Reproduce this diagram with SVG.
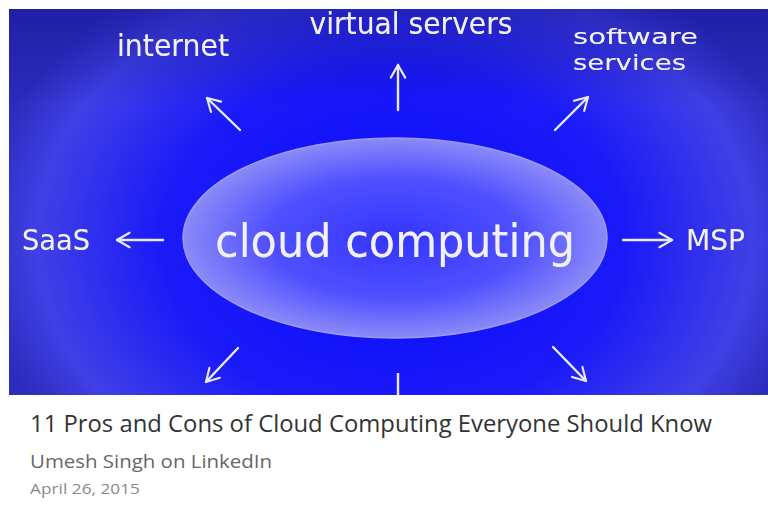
<svg xmlns="http://www.w3.org/2000/svg" width="768" height="508" viewBox="0 0 768 508">
<defs>
<radialGradient id="bg" cx="395" cy="240" r="420" gradientUnits="userSpaceOnUse" gradientTransform="translate(395 240) scale(1 0.75) translate(-395 -240)">
<stop offset="0" stop-color="#0a0aff"/>
<stop offset="0.55" stop-color="#1a1af8"/>
<stop offset="0.85" stop-color="#4040e6"/>
<stop offset="1" stop-color="#2c2cbc"/>
</radialGradient>
<linearGradient id="topShade" x1="0" y1="0" x2="0" y2="1">
<stop offset="0" stop-color="#10108a" stop-opacity="0.45"/>
<stop offset="0.25" stop-color="#10108a" stop-opacity="0"/>
</linearGradient>
<radialGradient id="ell" cx="0.5" cy="0.5" r="0.5">
<stop offset="0" stop-color="#3434ff"/>
<stop offset="0.6" stop-color="#5050ff"/>
<stop offset="1" stop-color="#8a8af8"/>
</radialGradient>
<filter id="glow" x="-10%" y="-30%" width="120%" height="160%">
<feGaussianBlur in="SourceAlpha" stdDeviation="1.5"/>
<feOffset dx="1" dy="1"/>
<feComponentTransfer><feFuncA type="linear" slope="0.6"/></feComponentTransfer>
<feFlood flood-color="#101070"/>
<feComposite operator="in" in2="SourceAlpha"/>
<feMerge><feMergeNode/><feMergeNode in="SourceGraphic"/></feMerge>
</filter>
<marker id="head" viewBox="0 0 20 20" refX="18" refY="10" markerWidth="18" markerHeight="18" markerUnits="userSpaceOnUse" orient="auto">
<path d="M4 2 L18 10 L4 18" fill="none" stroke="#eaeaff" stroke-width="2.4" stroke-linecap="round" stroke-linejoin="round"/>
</marker>
</defs>
<style>
.lbl{font-family:"DejaVu Sans",sans-serif;fill:#f0f0ff;}
.arr{stroke:#eaeaff;stroke-width:2.4;fill:none;stroke-linecap:round;marker-end:url(#head);}
.cap{font-family:"Open Sans","Liberation Sans",sans-serif;}
</style>
<rect width="768" height="508" fill="#ffffff"/>
<rect x="9" y="9" width="759" height="386" fill="url(#bg)"/>
<rect x="9" y="9" width="759" height="386" fill="url(#topShade)"/>

<g id="cloud-computing">
<ellipse cx="395" cy="238" rx="212" ry="100" fill="url(#ell)" stroke="#9a9af5" stroke-width="1.5"/>
<text class="lbl" x="395" y="257" font-size="47" text-anchor="middle" textLength="360" lengthAdjust="spacingAndGlyphs" filter="url(#glow)">cloud computing</text>
</g>
<g id="virtual-servers"><text class="lbl" x="411" y="34" font-size="30" text-anchor="middle" textLength="203" lengthAdjust="spacingAndGlyphs" filter="url(#glow)">virtual servers</text></g>
<g id="internet"><text class="lbl" x="173" y="56" font-size="30" text-anchor="middle" textLength="112" lengthAdjust="spacingAndGlyphs" filter="url(#glow)">internet</text></g>
<g id="software-services">
<text class="lbl" x="573" y="44" font-size="22" textLength="125" lengthAdjust="spacingAndGlyphs" filter="url(#glow)">software</text>
<text class="lbl" x="573" y="70" font-size="22" textLength="113" lengthAdjust="spacingAndGlyphs" filter="url(#glow)">services</text>
</g>
<g id="saas"><text class="lbl" x="22" y="250" font-size="28" textLength="68" lengthAdjust="spacingAndGlyphs" filter="url(#glow)">SaaS</text></g>
<g id="msp"><text class="lbl" x="686" y="250" font-size="28" textLength="59" lengthAdjust="spacingAndGlyphs" filter="url(#glow)">MSP</text></g>

<g id="connectors">
<line class="arr" x1="398" y1="110" x2="398" y2="65"/>
<line class="arr" x1="240" y1="130" x2="207" y2="98"/>
<line class="arr" x1="555" y1="130" x2="588" y2="97"/>
<line class="arr" x1="163" y1="240" x2="117" y2="240"/>
<line class="arr" x1="623" y1="240" x2="672" y2="240"/>
<line class="arr" x1="238" y1="348" x2="206" y2="382"/>
<line class="arr" x1="553" y1="347" x2="586" y2="381"/>
<line x1="398" y1="373" x2="398" y2="395" stroke="#eaeaff" stroke-width="2.4"/>
</g>

<g id="caption">
<text class="cap" x="30" y="432" font-size="23" fill="#333333" textLength="682" lengthAdjust="spacingAndGlyphs">11 Pros and Cons of Cloud Computing Everyone Should Know</text>
<text class="cap" x="30" y="468" font-size="19" fill="#666666" textLength="242" lengthAdjust="spacingAndGlyphs">Umesh Singh on LinkedIn</text>
<text class="cap" x="30" y="494" font-size="15" fill="#8a8a8a" textLength="110" lengthAdjust="spacingAndGlyphs">April 26, 2015</text>
</g>
</svg>
